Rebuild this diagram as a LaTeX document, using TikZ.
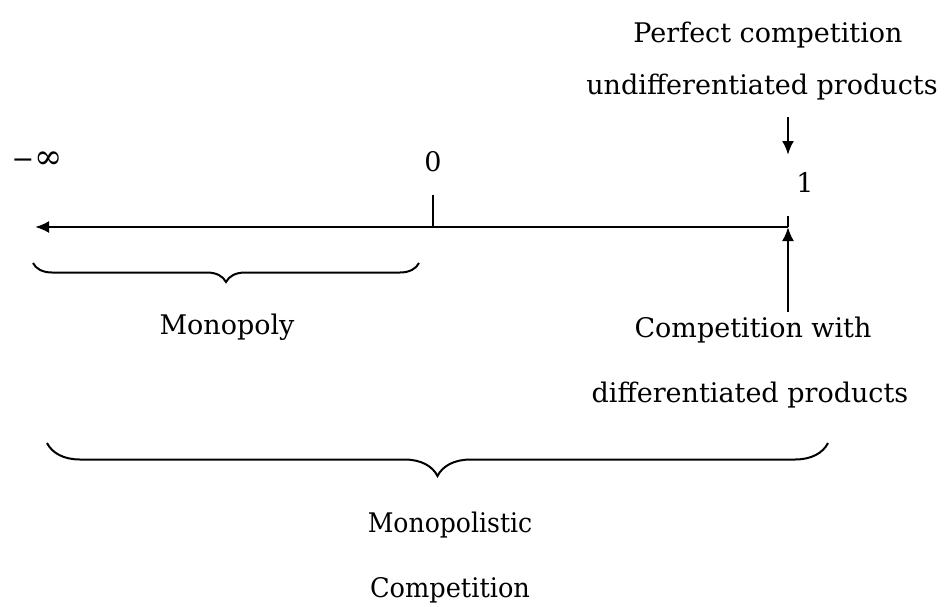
\documentclass[tikz,border=0pt]{standalone}
\usepackage{fontspec}
\setmainfont{DejaVu Serif}
\usetikzlibrary{arrows.meta,decorations.pathreplacing}
\begin{document}
\begin{tikzpicture}[x=1pt,y=-1pt,
  lbl/.style={font=\fontsize{27}{30}\selectfont, inner sep=0pt, anchor=base},
  axisline/.style={line width=2.4pt},
  arr/.style={line width=2.4pt,-{Latex[length=14pt,width=12pt]}},
  brc/.style={decorate,decoration={brace,mirror,amplitude=#1},line width=2pt}]
\useasboundingbox (0,0) rectangle (945,606);

% labels
\node[lbl] (perfect) at (768,42) {Perfect competition};
\node[lbl] (undiff) at (762,94) {undifferentiated products};
\node[lbl] (one) at (805,192) {1};
\node[lbl] (zero) at (433,171) {0};
\node[lbl] (minf) at (37,168) {−\fontsize{34}{30}\selectfont∞};
\node[lbl] (compwith) at (753,337) {Competition with};
\node[lbl] (diffprod) at (750,402) {differentiated products};
\node[lbl] (monopoly) at (227,334) {Monopoly};
\node[lbl,xscale=0.93] (monopolistic) at (450,532) {Monopolistic};
\node[lbl,xscale=0.95] (competition) at (450,597) {Competition};

% axis
\coordinate (axL) at (35,227);
\coordinate (axR) at (788,227);
\coordinate (zeroTick) at (433,227);
\coordinate (zeroTop) at (433,195);
\coordinate (oneTop) at (788,216);
\draw[arr] (axR) -- (axL);
\draw[axisline] (zeroTop) -- (zeroTick);
\draw[axisline] (oneTop) -- (axR);

% arrows
\coordinate (downS) at (788,117);
\coordinate (downE) at (788,155);
\draw[arr] (downS) -- (downE);
\coordinate (upS) at (788,312);
\draw[arr] (upS) -- (axR);

% braces
\coordinate (b1L) at (33,263);
\coordinate (b1R) at (419,263);
\draw[brc=19] (b1L) -- (b1R);
\coordinate (b2L) at (47,443);
\coordinate (b2R) at (828,443);
\draw[brc=33] (b2L) -- (b2R);
\end{tikzpicture}
\end{document}
